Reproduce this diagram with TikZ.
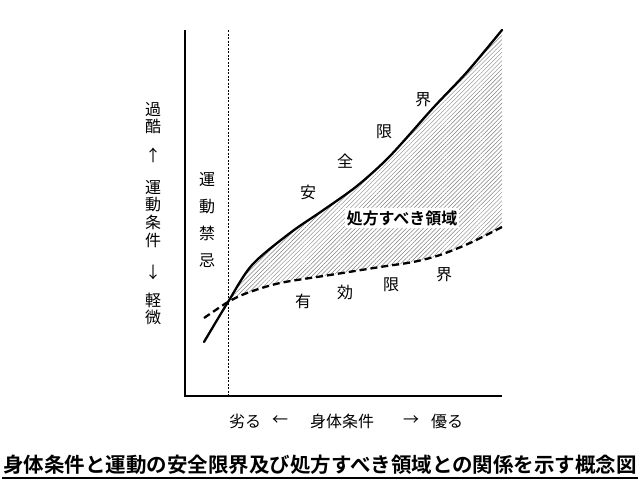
\documentclass[tikz,border=0pt]{standalone}
\usepackage{fontspec}
\setmainfont{Noto Sans CJK JP}
\newfontfamily\capfont{Noto Sans CJK JP Bold}
\usetikzlibrary{patterns.meta}

\begin{document}
\begin{tikzpicture}[
        x=1pt, y=-1pt,
        font=\fontsize{16}{17.8}\selectfont
    ]
    \tikzset{
        axisline/.style = {line width=1.8pt},
        banline/.style = {line width=0.7pt, dash pattern=on 2pt off 1.5pt},
        safeline/.style = {line width=2.3pt, line cap=round},
        effline/.style = {line width=2.3pt, dash pattern=on 7pt off 4pt},
        hatch/.style = {pattern={Lines[angle=45, distance=3pt, line width=0.5pt]}, pattern color=gray},
        vlbl/.style = {align=center, inner sep=0pt},
        lbl/.style = {inner sep=0pt},
    }
    \useasboundingbox (0,0) rectangle (642,482);
    %
    % hatched region
    \fill[hatch] plot[smooth] coordinates {(228,302) (252,265) (290,233) (322,211) (357,186) (390,156) (433,108) (467,72) (502,30)}
        -- (502,227)
        -- plot[smooth] coordinates {(502,227) (470,243) (440,255) (413,262) (380,267) (330,275) (280,283) (247,293) (228,302)}
        -- cycle;
    %
    % axes
    \draw[axisline] (185,30) -- (185,396) -- (502,396);
    \draw[banline] (228,30) -- (228,396);
    %
    % curves
    \draw[safeline] plot[smooth] coordinates {(204,342) (228,302) (252,265) (290,233) (322,211) (357,186) (390,156) (433,108) (467,72) (502,30)};
    \draw[effline] plot[smooth] coordinates {(204,318) (228,302) (247,293) (280,283) (330,275) (380,267) (413,262) (440,255) (470,243) (502,227)};
    %
    \node[lbl] (an) at (308,192) {安};
    \node[lbl] (zen) at (345,161) {全};
    \node[lbl] (gen1) at (384,132) {限};
    \node[lbl] (kai1) at (423,100) {界};
    %
    \node[lbl] (yu) at (303,301) {有};
    \node[lbl] (ko) at (345,292) {効};
    \node[lbl] (gen2) at (391,285) {限};
    \node[lbl] (kai2) at (444,275) {界};
    %
    \node[fill=white, inner sep=2pt, font=\capfont\fontsize{16}{17}\selectfont] (ryoiki) at (402,218) {処方すべき領域};
    %
    \node[vlbl, font=\fontsize{16}{26.7}\selectfont] (kinki) at (207,220) {運\\動\\禁\\忌};
    %
    \node[vlbl] (kakoku) at (153,118) {過\\酷};
    \node[lbl] (up) at (153,155) {↑};
    \node[vlbl] (undo) at (153,214) {運\\動\\条\\件};
    \node[lbl] (down) at (153,272) {↓};
    \node[vlbl] (keibi) at (153,309) {軽\\微};
    %
    \node[lbl] (otoru) at (245,421) {劣る};
    \node[lbl] (left) at (280,421) {←};
    \node[lbl] (shintai) at (342,421) {身体条件};
    \node[lbl] (right) at (411,421) {→};
    \node[lbl] (masaru) at (447,421) {優る};
    %
    \node[lbl, font=\capfont\fontsize{20.5}{22}\selectfont] (caption) at (320,465) {身体条件と運動の安全限界及び処方すべき領域との関係を示す概念図};
    \draw[line width=1.2pt] (2,478) -- (638,478);
\end{tikzpicture}
\end{document}
